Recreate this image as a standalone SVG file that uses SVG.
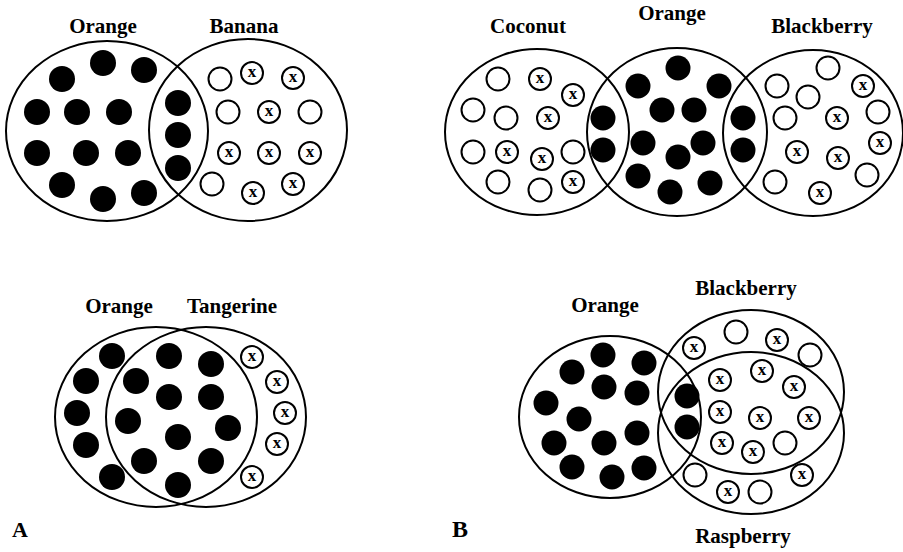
<svg xmlns="http://www.w3.org/2000/svg" width="903" height="552" viewBox="0 0 903 552">
<style>
.set{fill:none;stroke:#000;stroke-width:2}
.lbl{font-family:"Liberation Serif","Times New Roman",serif;font-weight:bold;font-size:21px;text-anchor:middle;fill:#000}
.pl{font-family:"Liberation Serif","Times New Roman",serif;font-weight:bold;fill:#000}
.f{fill:#000}
.o{fill:#fff;stroke:#000;stroke-width:2}
.x{font-family:"Liberation Serif","Times New Roman",serif;font-weight:bold;font-size:17px;text-anchor:middle;fill:#000}
</style>
<rect width="903" height="552" fill="#fff"/>

<!-- Panel A top: Orange / Banana -->
<g id="a1-orange"><ellipse class="set" cx="107" cy="131" rx="101" ry="90"/><text class="lbl" x="103" y="33">Orange</text></g>
<g id="a1-banana"><ellipse class="set" cx="248" cy="130" rx="99" ry="91"/><text class="lbl" x="244" y="33">Banana</text></g>
<g id="a1-dots">
<circle class="f" cx="62" cy="79" r="13"/><circle class="f" cx="103" cy="63" r="13"/><circle class="f" cx="144" cy="70" r="13"/>
<circle class="f" cx="37" cy="112" r="13"/><circle class="f" cx="77" cy="112" r="13"/><circle class="f" cx="119" cy="112" r="13"/>
<circle class="f" cx="37" cy="153" r="13"/><circle class="f" cx="86" cy="153" r="13"/><circle class="f" cx="128" cy="153" r="13"/>
<circle class="f" cx="62" cy="185" r="13"/><circle class="f" cx="103" cy="199" r="13"/><circle class="f" cx="144" cy="193" r="13"/>
<circle class="f" cx="178" cy="103" r="13"/><circle class="f" cx="178" cy="135" r="13"/><circle class="f" cx="178" cy="168" r="13"/>
<circle class="o" cx="220" cy="79" r="11.5"/><circle class="o" cx="228" cy="112" r="11.5"/><circle class="o" cx="310" cy="112" r="11.5"/><circle class="o" cx="212" cy="184" r="11.5"/>
<circle class="o" cx="252" cy="73" r="11"/><text class="x" x="252" y="77">x</text>
<circle class="o" cx="293" cy="78" r="11"/><text class="x" x="293" y="82">x</text>
<circle class="o" cx="269" cy="112" r="11"/><text class="x" x="269" y="116">x</text>
<circle class="o" cx="229" cy="153" r="11"/><text class="x" x="229" y="157">x</text>
<circle class="o" cx="269" cy="153" r="11"/><text class="x" x="269" y="157">x</text>
<circle class="o" cx="310" cy="153" r="11"/><text class="x" x="310" y="157">x</text>
<circle class="o" cx="253" cy="193" r="11"/><text class="x" x="253" y="197">x</text>
<circle class="o" cx="293" cy="184" r="11"/><text class="x" x="293" y="188">x</text>
</g>

<!-- Panel B top: Coconut / Orange / Blackberry -->
<g id="b1-coconut"><ellipse class="set" cx="537" cy="132" rx="92" ry="83"/><text class="lbl" x="528" y="33">Coconut</text></g>
<g id="b1-orange"><ellipse class="set" cx="677" cy="132" rx="90" ry="84"/><text class="lbl" x="672" y="20">Orange</text></g>
<g id="b1-blackberry"><ellipse class="set" cx="813" cy="133" rx="90" ry="83"/><text class="lbl" x="822" y="33">Blackberry</text></g>
<g id="b1-dots">
<circle class="o" cx="498" cy="79" r="11.5"/><circle class="o" cx="473" cy="110" r="11.5"/><circle class="o" cx="506" cy="118" r="11.5"/>
<circle class="o" cx="473" cy="152" r="11.5"/><circle class="o" cx="573" cy="152" r="11.5"/><circle class="o" cx="498" cy="182" r="11.5"/><circle class="o" cx="540" cy="190" r="11.5"/>
<circle class="o" cx="540" cy="79" r="11"/><text class="x" x="540" y="83">x</text>
<circle class="o" cx="573" cy="95" r="11"/><text class="x" x="573" y="99">x</text>
<circle class="o" cx="548" cy="118" r="11"/><text class="x" x="548" y="122">x</text>
<circle class="o" cx="507" cy="152" r="11"/><text class="x" x="507" y="156">x</text>
<circle class="o" cx="542" cy="159" r="11"/><text class="x" x="542" y="163">x</text>
<circle class="o" cx="573" cy="182" r="11"/><text class="x" x="573" y="186">x</text>
<circle class="f" cx="603" cy="118" r="12.5"/><circle class="f" cx="603" cy="150" r="12.5"/>
<circle class="f" cx="678" cy="68" r="12.5"/><circle class="f" cx="638" cy="86" r="12.5"/><circle class="f" cx="719" cy="86" r="12.5"/>
<circle class="f" cx="662" cy="110" r="12.5"/><circle class="f" cx="694" cy="110" r="12.5"/>
<circle class="f" cx="643" cy="143" r="12.5"/><circle class="f" cx="703" cy="143" r="12.5"/><circle class="f" cx="678" cy="157" r="12.5"/>
<circle class="f" cx="638" cy="176" r="12.5"/><circle class="f" cx="710" cy="183" r="12.5"/><circle class="f" cx="670" cy="192" r="12.5"/>
<circle class="f" cx="743" cy="118" r="12.5"/><circle class="f" cx="743" cy="150" r="12.5"/>
<circle class="o" cx="828" cy="68" r="11.5"/><circle class="o" cx="777" cy="86" r="11.5"/><circle class="o" cx="808" cy="97" r="11.5"/>
<circle class="o" cx="785" cy="118" r="11.5"/><circle class="o" cx="878" cy="112" r="11.5"/><circle class="o" cx="775" cy="182" r="11.5"/><circle class="o" cx="867" cy="175" r="11.5"/>
<circle class="o" cx="863" cy="86" r="11"/><text class="x" x="863" y="90">x</text>
<circle class="o" cx="837" cy="118" r="11"/><text class="x" x="837" y="122">x</text>
<circle class="o" cx="797" cy="152" r="11"/><text class="x" x="797" y="156">x</text>
<circle class="o" cx="838" cy="158" r="11"/><text class="x" x="838" y="162">x</text>
<circle class="o" cx="880" cy="143" r="11"/><text class="x" x="880" y="147">x</text>
<circle class="o" cx="820" cy="193" r="11"/><text class="x" x="820" y="197">x</text>
</g>

<!-- Panel A bottom: Orange / Tangerine -->
<g id="a2-orange"><ellipse class="set" cx="156" cy="417" rx="101" ry="90"/><text class="lbl" x="119" y="313">Orange</text></g>
<g id="a2-tangerine"><ellipse class="set" cx="206" cy="417" rx="100" ry="90"/><text class="lbl" x="232" y="313">Tangerine</text></g>
<g id="a2-dots">
<circle class="f" cx="112" cy="356" r="13"/><circle class="f" cx="86" cy="381" r="13"/><circle class="f" cx="77" cy="413" r="13"/>
<circle class="f" cx="86" cy="445" r="13"/><circle class="f" cx="112" cy="477" r="13"/>
<circle class="f" cx="169" cy="356" r="13"/><circle class="f" cx="211" cy="364" r="13"/>
<circle class="f" cx="136" cy="381" r="13"/><circle class="f" cx="169" cy="397" r="13"/><circle class="f" cx="211" cy="397" r="13"/>
<circle class="f" cx="128" cy="421" r="13"/><circle class="f" cx="228" cy="428" r="13"/><circle class="f" cx="178" cy="437" r="13"/>
<circle class="f" cx="144" cy="461" r="13"/><circle class="f" cx="211" cy="461" r="13"/><circle class="f" cx="178" cy="485" r="13"/>
<circle class="o" cx="252" cy="357" r="11"/><text class="x" x="252" y="361">x</text>
<circle class="o" cx="277" cy="382" r="11"/><text class="x" x="277" y="386">x</text>
<circle class="o" cx="285" cy="413" r="11"/><text class="x" x="285" y="417">x</text>
<circle class="o" cx="277" cy="444" r="11"/><text class="x" x="277" y="448">x</text>
<circle class="o" cx="252" cy="477" r="11"/><text class="x" x="252" y="481">x</text>
</g>

<!-- Panel B bottom: Orange / Blackberry / Raspberry -->
<g id="b2-orange"><ellipse class="set" cx="610" cy="417" rx="91" ry="81"/><text class="lbl" x="605" y="312">Orange</text></g>
<g id="b2-blackberry"><ellipse class="set" cx="751" cy="392" rx="93" ry="82"/><text class="lbl" x="746" y="295">Blackberry</text></g>
<g id="b2-raspberry"><ellipse class="set" cx="751" cy="433" rx="93" ry="81"/><text class="lbl" x="743" y="543">Raspberry</text></g>
<g id="b2-dots">
<circle class="f" cx="603" cy="355" r="12.5"/><circle class="f" cx="644" cy="363" r="12.5"/>
<circle class="f" cx="572" cy="372" r="12.5"/><circle class="f" cx="604" cy="387" r="12.5"/><circle class="f" cx="637" cy="393" r="12.5"/>
<circle class="f" cx="546" cy="403" r="12.5"/><circle class="f" cx="579" cy="419" r="12.5"/>
<circle class="f" cx="554" cy="443" r="12.5"/><circle class="f" cx="604" cy="443" r="12.5"/><circle class="f" cx="637" cy="433" r="12.5"/>
<circle class="f" cx="572" cy="467" r="12.5"/><circle class="f" cx="612" cy="477" r="12.5"/><circle class="f" cx="644" cy="468" r="12.5"/>
<circle class="f" cx="687" cy="396" r="12.5"/><circle class="f" cx="687" cy="427" r="12.5"/>
<circle class="o" cx="736" cy="332" r="11.5"/><circle class="o" cx="810" cy="355" r="11.5"/><circle class="o" cx="785" cy="443" r="11.5"/>
<circle class="o" cx="695" cy="475" r="11.5"/><circle class="o" cx="760" cy="492" r="11.5"/>
<circle class="o" cx="694" cy="348" r="11"/><text class="x" x="694" y="352">x</text>
<circle class="o" cx="777" cy="340" r="11"/><text class="x" x="777" y="344">x</text>
<circle class="o" cx="720" cy="380" r="11"/><text class="x" x="720" y="384">x</text>
<circle class="o" cx="762" cy="371" r="11"/><text class="x" x="762" y="375">x</text>
<circle class="o" cx="794" cy="387" r="11"/><text class="x" x="794" y="391">x</text>
<circle class="o" cx="720" cy="412" r="11"/><text class="x" x="720" y="416">x</text>
<circle class="o" cx="760" cy="418" r="11"/><text class="x" x="760" y="422">x</text>
<circle class="o" cx="809" cy="418" r="11"/><text class="x" x="809" y="422">x</text>
<circle class="o" cx="722" cy="443" r="11"/><text class="x" x="722" y="447">x</text>
<circle class="o" cx="753" cy="452" r="11"/><text class="x" x="753" y="456">x</text>
<circle class="o" cx="728" cy="492" r="11"/><text class="x" x="728" y="496">x</text>
<circle class="o" cx="802" cy="475" r="11"/><text class="x" x="802" y="479">x</text>
</g>

<g id="panel-labels">
<text class="pl" x="12" y="537" font-size="22">A</text>
<text class="pl" x="452" y="537" font-size="24">B</text>
</g>
</svg>
